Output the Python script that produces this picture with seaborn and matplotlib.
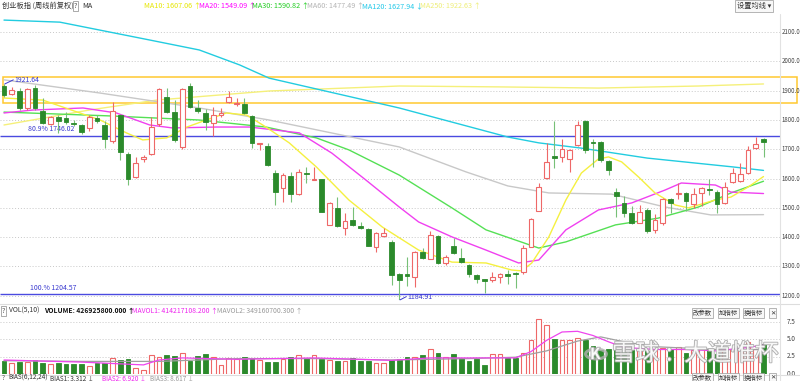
import numpy as np
import pandas as pd
import seaborn as sns
import matplotlib.pyplot as plt
import matplotlib.patheffects as pe
from matplotlib.patches import Rectangle, Circle

# weekly candles, 创业板指
opens = [1915, 1888, 1900, 1840, 1910, 1830, 1786, 1810, 1806, 1791,
         1783, 1772, 1808, 1783, 1728, 1817, 1685, 1606, 1666, 1684,
         1786, 1880, 1828, 1707, 1917, 1840, 1823, 1789, 1818, 1862,
         1853, 1855, 1815, 1717, 1711, 1618, 1567, 1609, 1549, 1620,
         1595, 1598, 1442, 1499, 1430, 1458, 1438, 1427, 1365, 1404,
         1385, 1273, 1273, 1265, 1351, 1326, 1404, 1311, 1370, 1330,
         1305, 1271, 1256, 1254, 1265, 1273, 1277, 1280, 1368, 1491,
         1601, 1677, 1675, 1666, 1715, 1795, 1726, 1726, 1660, 1555,
         1516, 1482, 1450, 1493, 1425, 1447, 1529, 1548, 1552, 1513,
         1550, 1566, 1555, 1516, 1589, 1593, 1618, 1703, 1734]
highs = [1922, 1914, 1909, 1908, 1919, 1875, 1815, 1818, 1826, 1800,
         1786, 1817, 1816, 1795, 1862, 1820, 1690, 1674, 1682, 1811,
         1910, 1908, 1868, 1908, 1925, 1868, 1837, 1845, 1840, 1900,
         1874, 1876, 1818, 1722, 1720, 1628, 1619, 1624, 1632, 1641,
         1640, 1600, 1521, 1538, 1481, 1504, 1452, 1433, 1419, 1430,
         1390, 1278, 1333, 1353, 1362, 1420, 1407, 1338, 1397, 1362,
         1308, 1276, 1258, 1280, 1277, 1287, 1280, 1372, 1465, 1584,
         1720, 1795, 1734, 1702, 1795, 1800, 1734, 1730, 1665, 1567,
         1541, 1505, 1510, 1500, 1478, 1535, 1534, 1584, 1555, 1567,
         1570, 1598, 1560, 1590, 1635, 1652, 1710, 1743, 1738]
lows = [1880, 1886, 1834, 1835, 1834, 1785, 1783, 1755, 1786, 1778,
        1752, 1762, 1790, 1703, 1721, 1665, 1578, 1603, 1658, 1680,
        1780, 1823, 1726, 1700, 1840, 1825, 1765, 1745, 1810, 1858,
        1848, 1820, 1703, 1698, 1643, 1510, 1521, 1521, 1545, 1585,
        1594, 1485, 1440, 1435, 1408, 1438, 1427, 1369, 1351, 1400,
        1237, 1184.91, 1232, 1230, 1325, 1324, 1310, 1306, 1343, 1313,
        1265, 1243, 1208, 1248, 1245, 1240, 1225, 1275, 1365, 1488,
        1598, 1635, 1658, 1622, 1712, 1686, 1641, 1658, 1612, 1470,
        1470, 1445, 1447, 1416, 1416, 1442, 1484, 1529, 1490, 1499,
        1508, 1544, 1482, 1513, 1585, 1590, 1615, 1700, 1675]
closes = [1885, 1902, 1840, 1905, 1842, 1790, 1811, 1798, 1794, 1788,
          1760, 1811, 1795, 1734, 1830, 1690, 1600, 1653, 1673, 1777,
          1905, 1828, 1732, 1905, 1845, 1832, 1792, 1817, 1823, 1878,
          1857, 1823, 1720, 1720, 1646, 1555, 1612, 1547, 1624, 1616,
          1600, 1487, 1516, 1438, 1456, 1443, 1431, 1371, 1416, 1414,
          1271, 1255, 1268, 1351, 1328, 1407, 1313, 1333, 1345, 1316,
          1274, 1256, 1252, 1265, 1274, 1269, 1275, 1362, 1461, 1570,
          1658, 1669, 1700, 1698, 1783, 1698, 1722, 1663, 1630, 1540,
          1484, 1450, 1487, 1422, 1459, 1529, 1518, 1552, 1525, 1548,
          1567, 1562, 1513, 1572, 1620, 1616, 1698, 1717, 1724]
# volume, 亿
volumes = [1.86, 1.62, 1.71, 1.71, 2.0, 1.62, 1.38, 1.62, 1.48, 1.48,
           1.48, 1.14, 1.62, 1.62, 2.24, 1.95, 2.1, 0.9, 0.52, 2.67,
           2.43, 2.67, 2.57, 2.95, 1.86, 2.57, 2.81, 2.43, 1.29, 2.24,
           2.1, 2.43, 2.33, 1.95, 1.71, 1.71, 2.1, 2.43, 2.67, 2.33,
           2.71, 2.1, 1.95, 1.86, 1.86, 2.24, 1.86, 1.86, 1.62, 1.62,
           1.95, 2.1, 2.43, 2.43, 2.67, 3.52, 2.95, 2.43, 2.81, 2.33,
           1.86, 2.1, 1.29, 2.9, 2.81, 2.33, 2.33, 3.05, 4.81, 7.8,
           7.0, 5.0, 4.9, 4.9, 5.2, 4.9, 4.0, 3.5, 3.6, 3.4,
           3.1, 3.5, 3.6, 3.3, 3.6, 3.7, 3.6, 3.9, 3.0, 3.5,
           3.6, 3.6, 2.9, 3.5, 3.6, 3.9, 4.6, 3.6, 4.27]

ma10_idx = [0, 5, 12.4, 15.8, 17.9, 21, 23.6, 26.1, 28.7, 31.3, 33.8, 36.8, 40.3, 44.5, 48.8,
            53.5, 57.8, 62.2, 65.5, 66.8, 68.1, 70.3, 72.5, 74.5, 76.7, 78, 79.7, 81.9, 84,
            86.6, 88.3, 91.8, 93.8, 96, 98]
ma10_val = [1875, 1868, 1800, 1756, 1732, 1739, 1776, 1800, 1824, 1817, 1776, 1722, 1640, 1527, 1435,
            1356, 1315, 1312, 1288, 1285, 1312, 1401, 1527, 1619, 1667, 1674, 1657, 1605, 1551,
            1510, 1500, 1527, 1537, 1571, 1607]
ma20_idx = [0, 3.7, 10.2, 14.5, 18.8, 21.7, 27.4, 31.7, 38.1, 42.3, 46.7, 51, 53.5, 57.8, 62.2,
            66.4, 69, 72.5, 76.7, 81, 85.3, 87.4, 91.8, 93.8, 98]
ma20_val = [1824, 1834, 1841, 1824, 1783, 1773, 1776, 1776, 1756, 1687, 1595, 1503, 1452, 1401, 1356,
            1312, 1322, 1425, 1493, 1517, 1561, 1585, 1578, 1554, 1549]
ma30_idx = [0, 13.6, 25.2, 33.8, 40.3, 44.5, 51, 57.8, 62.2, 69, 72.5, 78.9, 84.4, 89.6, 93.8, 98]
ma30_val = [1827, 1814, 1800, 1776, 1739, 1698, 1612, 1500, 1425, 1363, 1384, 1442, 1465, 1503, 1551, 1591]
ma60_idx = [0, 12.4, 25.2, 34.2, 51, 59.6, 65, 70.3, 78.4, 85.3, 91.2, 98]
ma60_val = [1937, 1892, 1841, 1800, 1708, 1623, 1575, 1551, 1547, 1503, 1476, 1477]
ma120_idx = [0, 7.2, 18.8, 25.2, 30.4, 34.2, 51, 65, 69, 74.5, 83, 94, 98]
ma120_val = [2141, 2134, 2073, 2039, 1988, 1943, 1841, 1742, 1722, 1704, 1670, 1640, 1628]
ma250_idx = [0, 11, 19.7, 34.2, 51, 63.8, 76.7, 89.6, 98]
ma250_val = [1783, 1834, 1868, 1899, 1916, 1913, 1909, 1916, 1923]

mavol1_idx = [0, 10, 18, 20, 23, 30, 40, 50, 55, 60, 66, 68, 70, 72, 74, 76, 78, 80, 84, 88, 92, 96, 98]
mavol1_val = [2.0, 1.7, 1.3, 2.0, 2.3, 2.1, 2.3, 1.95, 2.3, 2.3, 2.3, 3.2, 4.8, 6.0, 6.1, 5.5, 4.6, 3.8,
              3.5, 3.5, 3.3, 3.8, 4.14]
mavol2_idx = [0, 10, 20, 30, 40, 50, 60, 66, 70, 74, 77, 80, 84, 88, 92, 98]
mavol2_val = [1.9, 1.8, 1.8, 2.2, 2.2, 2.0, 2.2, 2.4, 3.3, 4.7, 5.3, 4.6, 3.9, 3.7, 3.5, 3.49]

price_ticks = [1200, 1300, 1400, 1500, 1600, 1700, 1800, 1900, 2000, 2100]
vol_ticks = [0.0, 2.5, 5.0, 7.5]

RED = '#ee6868'
GREEN = '#2b8a2b'
GREEN_WICK = '#77c077'
BLUE = '#3a3ad0'

sns.set_theme(style="white")
plt.rcParams['font.family'] = ['Noto Sans CJK SC', 'DejaVu Sans']
plt.rcParams['axes.unicode_minus'] = False

W, H = 800, 381
fig = plt.figure(figsize=(W / 100, H / 100), dpi=100)
fig.patch.set_facecolor('white')

def px_axes(x0, y0, x1, y1):
    a = fig.add_axes([x0 / W, 1 - y1 / H, (x1 - x0) / W, (y1 - y0) / H])
    a.set_axis_off()
    return a

def ftext(x, y, s, **kw):
    kw.setdefault('fontsize', 5.2)
    kw.setdefault('va', 'center')
    return fig.text(x / W, 1 - y / H, s, **kw)

def price(ypx):
    return 1800 - (ypx - 120) * 3.413

STEP = 7.75
xmin, xmax = -4 / STEP, 776 / STEP

df = pd.DataFrame({'open': opens, 'high': highs, 'low': lows, 'close': closes, 'vol': volumes})
df['i'] = np.arange(len(df))
df['up'] = df['close'] >= df['open']

# ---- main price panel
ax = px_axes(0, 14, 780, 300)
ax.set_xlim(xmin, xmax)
ax.set_ylim(price(300), price(14))
ax.hlines(price_ticks, xmin, xmax, colors='#c8c8c8', linestyles=(0, (1, 2)), lw=0.7, zorder=0)

# yellow box and fib lines
ax.add_patch(Rectangle((-0.1, 1859), 102.4, 87, fill=False, ec='#ffc930', lw=1.1, clip_on=False, zorder=1))
ax.hlines([1746.02, 1204.57], xmin, xmax, colors='#4a4ae0', lw=1.0, zorder=1)
ax.text(3.1, 1746.02 + 8, '80.9% 1746.02', color=BLUE, fontsize=5.0, va='bottom')
ax.text(3.4, 1204.57 + 8, '100.% 1204.57', color=BLUE, fontsize=5.0, va='bottom')

# moving averages
for idx, val, col in [(ma250_idx, ma250_val, '#f5f07a'), (ma120_idx, ma120_val, '#22cce0'),
                      (ma60_idx, ma60_val, '#c8c8c8'), (ma30_idx, ma30_val, '#55e055'),
                      (ma20_idx, ma20_val, '#f040f0'), (ma10_idx, ma10_val, '#f5f040')]:
    sns.lineplot(x=idx, y=val, ax=ax, color=col, linewidth=1.0, legend=False, zorder=2)
ax.set_axis_off()

# candles
up = df[df['up']]
dn = df[~df['up']]
ax.vlines(up['i'], up['low'], up['high'], color=RED, lw=0.8, zorder=3)
ax.vlines(dn['i'], dn['low'], dn['high'], color=GREEN_WICK, lw=0.8, zorder=3)
bw = 0.62
ax.bar(up['i'], np.maximum(up['close'] - up['open'], 3.4), bottom=up['open'], width=bw,
       facecolor='white', edgecolor=RED, lw=0.8, zorder=4)
ax.bar(dn['i'], np.maximum(dn['open'] - dn['close'], 3.4), bottom=dn['close'], width=bw,
       facecolor=GREEN, edgecolor=GREEN, lw=0.6, zorder=4)

# high / low markers
ax.plot([0.1, 1.2], [1923, 1937], color=BLUE, lw=0.7, zorder=5)
ax.text(1.3, 1937, '1921.64', color=BLUE, fontsize=5.0, va='center')
ax.plot([51.1, 51.9], [1186, 1197], color=BLUE, lw=0.7, zorder=5, clip_on=False)
ax.text(52.0, 1197, '1184.91', color=BLUE, fontsize=5.0, va='center')

# right price axis labels
for t in price_ticks:
    ax.text(100.3, t, f'{t:.1f}', fontsize=4.4, color='#444444', va='center', clip_on=False)

# ---- volume panel
vx = px_axes(0, 305, 780, 374)
vx.set_xlim(xmin, xmax)
vx.set_ylim(0, 69 / 7)
vx.hlines(vol_ticks[1:], xmin, xmax, colors='#c8c8c8', linestyles=(0, (1, 2)), lw=0.7, zorder=0)
vx.bar(up['i'], up['vol'], width=bw, facecolor='white', edgecolor=RED, lw=0.8, zorder=2)
vx.bar(dn['i'], dn['vol'], width=bw, facecolor=GREEN, edgecolor=GREEN, lw=0.6, zorder=2)
sns.lineplot(x=mavol2_idx, y=mavol2_val, ax=vx, color='#a0a0a0', linewidth=0.9, legend=False, zorder=3)
sns.lineplot(x=mavol1_idx, y=mavol1_val, ax=vx, color='#ee44ee', linewidth=0.9, legend=False, zorder=3)
vx.set_axis_off()
for t in vol_ticks:
    vx.text(101.0, t, f'{t:.1f}', fontsize=4.6, color='#444444', va='center', clip_on=False)

# separators
for yy in [303.5, 375.0]:
    fig.add_artist(plt.Line2D([0, 1], [1 - yy / H] * 2, color='#dddddd', lw=0.8))
fig.add_artist(plt.Line2D([780 / W] * 2, [0, 1 - 14 / H], color='#e2e2e2', lw=0.8))

# watermark
wm = dict(color='white', alpha=0.9, path_effects=[pe.withStroke(linewidth=1.3, foreground='#a8a8a8')])
fig.add_artist(Circle((596 / W, 1 - 354 / H), 0.013, transform=fig.transFigure,
                      fill=False, ec='#b0b0b0', lw=2.2, alpha=0.8))
ftext(590, 354, 'K', fontsize=11, fontweight='bold', **wm)
ftext(612, 354, '雪球', fontsize=17, **wm)
ftext(666, 354, ':', fontsize=17, **wm)
ftext(684, 354, '大道惟杯', fontsize=17, **wm)

# ---- header
ftext(2, 6, '创业板指 (周线前复权)', color='#333333')
ftext(74, 6, '?', color='#555555', bbox=dict(boxstyle='square,pad=0.15', fc='white', ec='#888888', lw=0.5))
ftext(82, 6, 'MA', color='#333333')
for x, s, c in [(144, 'MA10: 1607.06 ↑', '#e6e600'), (199, 'MA20: 1549.09 ↑', '#ff00ff'),
                (252, 'MA30: 1590.82 ↑', '#22cc22'), (307, 'MA60: 1477.49 ↑', '#b4b4b4'),
                (362, 'MA120: 1627.94 ↓', '#22c8e8'), (420, 'MA250: 1922.63 ↑', '#eeee77')]:
    ftext(x, 6, s, color=c)
ftext(737, 6, '设置均线 ▾', color='#333333',
      bbox=dict(boxstyle='square,pad=0.25', fc='#f8f8f8', ec='#999999', lw=0.5))

ftext(2, 311, '?', color='#555555', bbox=dict(boxstyle='square,pad=0.15', fc='white', ec='#888888', lw=0.5))
ftext(9, 311, 'VOL(5,10)', color='#333333', fontsize=4.9)
ftext(44, 311, 'VOLUME: 426925800.000 ↑', color='#111111', fontsize=4.9, fontweight='semibold')
ftext(132, 311, 'MAVOL1: 414217108.200 ↑', color='#ee22ee', fontsize=4.9)
ftext(217, 311, 'MAVOL2: 349160700.300 ↑', color='#999999', fontsize=4.9)
for yy in [313, 377.6]:
    for x, s in [(693, '改参数'), (719, '加指标'), (744, '换指标'), (770, '✕')]:
        ftext(x, yy, s, color='#333333', fontsize=4.6,
              bbox=dict(boxstyle='square,pad=0.15', fc='#f8f8f8', ec='#999999', lw=0.5))
ftext(2, 377.6, '?', color='#555555', fontsize=4.6)
ftext(8, 377.6, 'BIAS(6,12,24)', color='#333333', fontsize=4.6)
ftext(50, 377.6, 'BIAS1: 3.312 ↓', color='#333333', fontsize=4.6)
ftext(102, 377.6, 'BIAS2: 6.920 ↓', color='#ee22ee', fontsize=4.6)
ftext(150, 377.6, 'BIAS3: 8.617 ↓', color='#999999', fontsize=4.6)

fig.savefig('out.png', dpi=100)
